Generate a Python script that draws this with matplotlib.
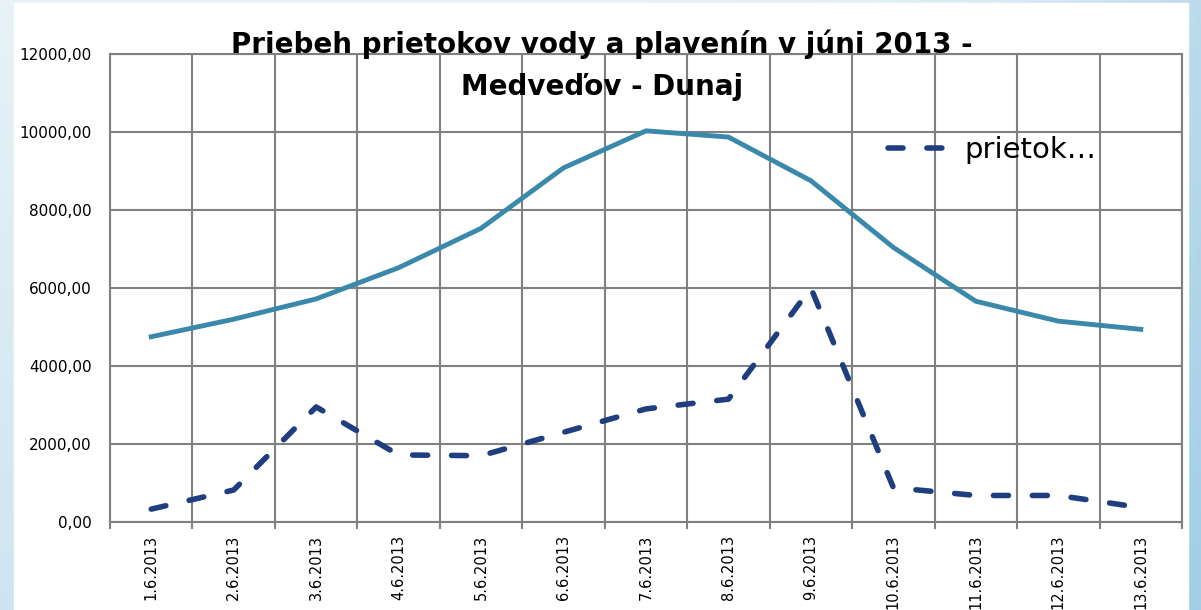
import numpy as np
import matplotlib.pyplot as plt
from matplotlib.patches import Rectangle

plt.rcParams['font.family'] = ['DejaVu Sans']

dates = ['1.6.2013', '2.6.2013', '3.6.2013', '4.6.2013', '5.6.2013', '6.6.2013',
         '7.6.2013', '8.6.2013', '9.6.2013', '10.6.2013', '11.6.2013', '12.6.2013',
         '13.6.2013']
prietok = [4750, 5200, 5720, 6520, 7530, 9080, 10030, 9870, 8750, 7040, 5660, 5150, 4940]
plaveniny = [330, 820, 2950, 1720, 1700, 2300, 2900, 3150, 6000, 880, 680, 680, 370]
yticks = [0, 2000, 4000, 6000, 8000, 10000, 12000]
ytick_labels = ['0,00', '2000,00', '4000,00', '6000,00', '8000,00', '10000,00', '12000,00']

W, H = 1201, 610
fig = plt.figure(figsize=(W / 100, H / 100), dpi=100)

# light blue slide background
bg = fig.add_axes([0, 0, 1, 1], zorder=-10)
gx = np.linspace(0, 1, 200)
gy = np.linspace(0, 1, 100)
X, Y = np.meshgrid(gx, gy)
t = np.clip(0.35 * Y + 0.6 * X ** 6, 0, 1)
c0 = np.array([0.91, 0.95, 0.97])
c1 = np.array([0.62, 0.80, 0.90])
img = c0[None, None, :] * (1 - t[..., None]) + c1[None, None, :] * t[..., None]
bg.imshow(img, extent=[0, 1, 0, 1], aspect='auto', origin='upper')
bg.add_patch(Rectangle((14 / W, 0), (1188 - 14) / W, (H - 3) / H, color='white'))
bg.set_xlim(0, 1)
bg.set_ylim(0, 1)
bg.axis('off')

left, right, top, bottom = 110, 1182, 54, 522
ax = fig.add_axes([left / W, (H - bottom) / H, (right - left) / W, (bottom - top) / H])
ax.set_facecolor('none')

x = np.arange(len(dates))
ax.plot(x, prietok, color='#3a89aa', lw=3.5, solid_joinstyle='miter', zorder=3)
ax.plot(x, plaveniny, color='#1f3e80', lw=4, dashes=(2.7, 4.3),
        dash_capstyle='round', label='prietok\u2026', zorder=3)

ax.set_xlim(-0.5, len(dates) - 0.5)
ax.set_ylim(0, 12000)
ax.set_yticks(yticks)
ax.set_yticklabels(ytick_labels, fontsize=11)
ax.set_xticks(x)
ax.set_xticklabels(dates, rotation=90, fontsize=10.5)
ax.set_xticks(np.arange(-0.5, len(dates)), minor=True)
ax.tick_params(axis='x', which='major', length=0, pad=9)
ax.tick_params(axis='x', which='minor', length=5, width=1.5, color='#808080', direction='out')
ax.tick_params(axis='y', length=0, pad=13)

ax.grid(True, axis='y', which='major', color='#808080', lw=1.5)
ax.grid(True, axis='x', which='minor', color='#808080', lw=1.5)
ax.grid(False, axis='x', which='major')
for s in ax.spines.values():
    s.set_color('#808080')
    s.set_linewidth(1.5)

leg = ax.legend(loc='upper left', bbox_to_anchor=((862 - left) / (right - left), (bottom - 110) / (bottom - top)),
                frameon=False, fontsize=21, handlelength=2.55, handletextpad=0.05)

fig.text(602 / W, 1 - 44 / H, 'Priebeh prietokov vody a plavenín v júni 2013 -',
         ha='center', va='center', fontsize=20, fontweight='bold')
fig.text(602 / W, 1 - 87 / H, 'Medveďov - Dunaj',
         ha='center', va='center', fontsize=20, fontweight='bold')

fig.savefig('out.png', dpi=100)
